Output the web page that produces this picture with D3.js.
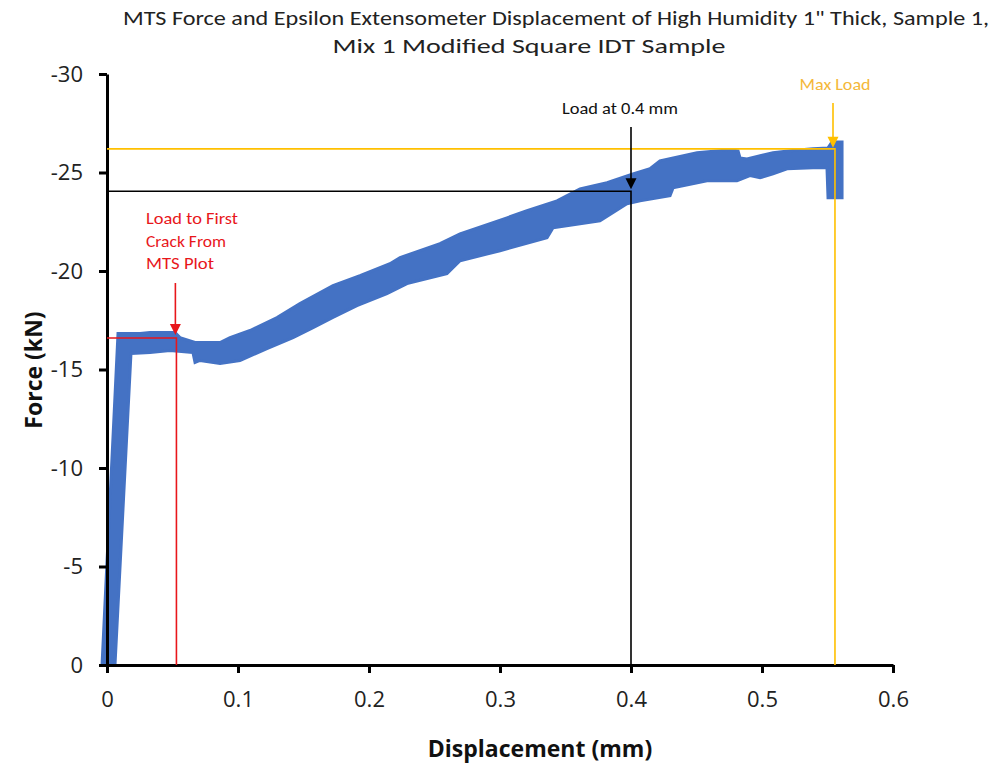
<!DOCTYPE html>
<html><head><meta charset="utf-8">
<script src="https://cdn.jsdelivr.net/npm/d3@7"></script>
<style>body{margin:0;background:#fff}</style>
</head><body>
<svg id="c" width="995" height="767"></svg>
<script>
// ---- data ----
const titleLines = ['MTS Force and Epsilon Extensometer Displacement of High Humidity 1" Thick, Sample 1,', 'Mix 1 Modified Square IDT Sample'];
const xTicks = [0, 0.1, 0.2, 0.3, 0.4, 0.5, 0.6];
const yTicks = [0, -5, -10, -15, -20, -25, -30];
// upper-left edge of the scatter band (displacement mm, force kN)
const upperDisp  = [-0.0038, 0.0084, 0.0252, 0.0328, 0.0519, 0.0557, 0.0672, 0.0863, 0.0939, 0.1092, 0.1298, 0.1473, 0.1725, 0.1931, 0.2160, 0.2237, 0.2542, 0.2695, 0.3053, 0.3206, 0.3435, 0.3611, 0.3817, 0.4015, 0.4145, 0.4221, 0.4504, 0.4756, 0.4817, 0.4832, 0.4885, 0.5084, 0.5214, 0.5389, 0.5504, 0.5534, 0.5611, 0.5611];
const upperForce = [0, -16.83, -16.83, -16.88, -16.88, -16.62, -16.37, -16.37, -16.62, -16.98, -17.64, -18.35, -19.26, -19.76, -20.37, -20.68, -21.39, -21.89, -22.70, -23.06, -23.56, -24.17, -24.48, -24.93, -25.19, -25.59, -26.00, -26.15, -26.10, -25.74, -25.69, -26.00, -26.10, -26.20, -26.25, -26.55, -26.55, -23.72];
// lower-right edge of the band, from the end of the test back to the origin
const lowerDisp  = [0.5504, 0.5496, 0.5389, 0.5191, 0.5084, 0.4985, 0.4908, 0.4809, 0.4580, 0.4321, 0.4298, 0.4069, 0.3969, 0.3763, 0.3405, 0.3359, 0.3000, 0.2695, 0.2595, 0.2290, 0.2137, 0.1908, 0.1725, 0.1573, 0.1420, 0.1221, 0.1015, 0.0863, 0.0710, 0.0672, 0.0656, 0.0481, 0.0328, 0.0183, 0.0061];
const lowerForce = [-23.72, -25.24, -25.24, -25.19, -24.93, -24.73, -24.84, -24.58, -24.58, -24.22, -23.82, -23.56, -23.41, -22.55, -22.20, -21.69, -21.03, -20.52, -19.87, -19.36, -18.85, -18.24, -17.64, -17.13, -16.62, -16.06, -15.46, -15.30, -15.46, -15.36, -15.86, -15.96, -15.86, -15.81, 0];
// annotations
const annoNames  = ['first crack', 'load at 0.4 mm', 'max load'];
const annoDisp   = [0.053, 0.4, 0.5557];
const annoForce  = [-16.6, -24.05, -26.2];
const annoColors = ['#e8161b', '#000000', '#ffc000'];

// ---- chart ----
const svg = d3.select('#c');
const x = d3.scaleLinear().domain([0, 0.6]).range([107, 893]);
const y = d3.scaleLinear().domain([0, -30]).range([665, 74]);

// title
const titleFont = "Carlito, 'Liberation Sans Narrow', 'Open Sans', sans-serif";
const tl = [{t: titleLines[0], cx: 556, by: 25, w: 866}, {t: titleLines[1], cx: 529, by: 53, w: 393}];
svg.selectAll('text.title').data(tl).join('text').attr('class', 'title')
  .attr('x', d => d.cx).attr('y', d => d.by).attr('text-anchor', 'middle')
  .attr('font-family', titleFont).attr('font-size', 20).attr('fill', '#222')
  .attr('textLength', d => d.w).attr('lengthAdjust', 'spacingAndGlyphs').text(d => d.t);

// band
const pts = upperDisp.map((d, i) => [d, upperForce[i]]).concat(lowerDisp.map((d, i) => [d, lowerForce[i]]));
const line = d3.line().x(d => x(d[0])).y(d => y(d[1]));
svg.append('path').attr('d', line(pts) + 'Z').attr('fill', '#4472c4').attr('stroke', '#4472c4')
  .attr('stroke-width', 3).attr('stroke-linejoin', 'miter');

// axes
const yAxis = d3.axisLeft(y).tickValues(yTicks).tickFormat(d => String(d)).tickSize(8).tickSizeOuter(0);
const gy = svg.append('g').attr('transform', `translate(${x(0)},0)`).call(yAxis);
gy.select('.domain').attr('stroke', '#000').attr('stroke-width', 3);
gy.selectAll('.tick line').attr('stroke', '#000').attr('stroke-width', 3);
gy.selectAll('.tick text').attr('x', -24).attr('font-family', "'Open Sans', sans-serif").attr('font-size', 22).attr('fill', '#222');

const xAxis = d3.axisBottom(x).tickValues(xTicks).tickFormat(d => String(d)).tickSize(8).tickSizeOuter(0);
const gx = svg.append('g').attr('transform', `translate(0,${y(0)})`).call(xAxis);
gx.select('.domain').attr('stroke', '#000').attr('stroke-width', 3);
gx.selectAll('.tick line').attr('stroke', '#000').attr('stroke-width', 3);
gx.selectAll('.tick text').attr('y', 26).attr('font-family', "'Open Sans', sans-serif").attr('font-size', 22).attr('fill', '#222');

// axis titles
svg.append('text').attr('x', 540).attr('y', 757).attr('text-anchor', 'middle')
  .attr('font-family', "'Open Sans', sans-serif").attr('font-weight', 'bold').attr('font-size', 23).attr('fill', '#111')
  .text('Displacement (mm)');
svg.append('text').attr('transform', 'translate(42,370) rotate(-90)').attr('text-anchor', 'middle')
  .attr('font-family', "'Open Sans', sans-serif").attr('font-weight', 'bold').attr('font-size', 23).attr('fill', '#111')
  .text('Force (kN)');

// annotation lines (drawn over the band)
annoNames.forEach((n, i) => {
  const c = annoColors[i];
  svg.append('path')
    .attr('d', `M${x(0)},${y(annoForce[i])}H${x(annoDisp[i])}V${y(0)}`)
    .attr('fill', 'none').attr('stroke', c).attr('stroke-width', 1.6);
});

// arrows
function arrow(xv, y1, y2, color) {
  const xp = x(xv);
  svg.append('line').attr('x1', xp).attr('x2', xp).attr('y1', y1).attr('y2', y2 - 9)
    .attr('stroke', color).attr('stroke-width', 1.6);
  svg.append('path').attr('d', `M${xp - 5.5},${y2 - 11}L${xp + 5.5},${y2 - 11}L${xp},${y2}Z`).attr('fill', color);
}
arrow(annoDisp[0] - 0.0008, 283, y(annoForce[0]) - 3, annoColors[0]);
arrow(annoDisp[1], 127, y(annoForce[1]) - 2, annoColors[1]);
arrow(annoDisp[2] - 0.0015, 103, y(annoForce[2]) - 1, annoColors[2]);

// annotation labels
const labFont = "Carlito, 'Liberation Sans Narrow', 'Open Sans', sans-serif";
const redLines = ['Load to First', 'Crack From', 'MTS Plot'];
const redW = [92, 80, 68];
redLines.forEach((t, i) => {
  svg.append('text').attr('x', 146).attr('y', 224 + i * 22.5).attr('font-family', labFont).attr('font-size', 16)
    .attr('fill', annoColors[0]).attr('textLength', redW[i]).attr('lengthAdjust', 'spacingAndGlyphs').text(t);
});
svg.append('text').attr('x', 620).attr('y', 114).attr('text-anchor', 'middle').attr('font-family', labFont).attr('font-size', 16)
  .attr('fill', '#111').attr('textLength', 116).attr('lengthAdjust', 'spacingAndGlyphs').text('Load at 0.4 mm');
svg.append('text').attr('x', 835).attr('y', 90).attr('text-anchor', 'middle').attr('font-family', labFont).attr('font-size', 16)
  .attr('fill', '#f4b83a').attr('textLength', 71).attr('lengthAdjust', 'spacingAndGlyphs').text('Max Load');
</script>
</body></html>
